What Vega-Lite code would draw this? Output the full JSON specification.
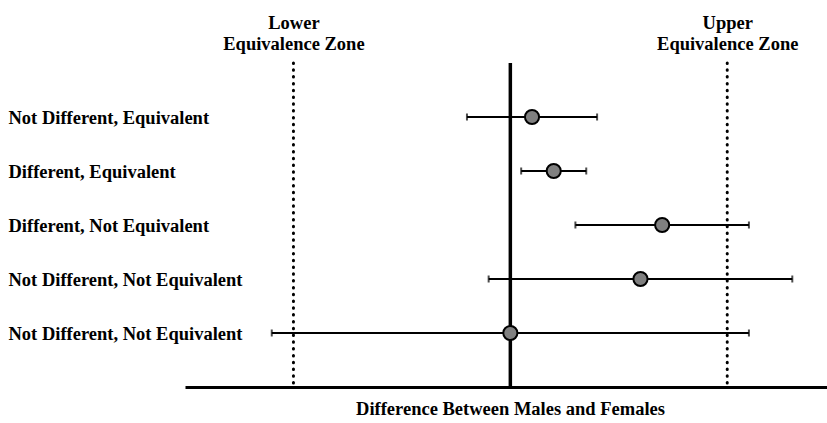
{
  "$schema": "https://vega.github.io/schema/vega-lite/v6.json",
  "width": 642,
  "height": 324,
  "autosize": "none",
  "padding": {"left": 185, "top": 63, "right": 0, "bottom": 36},
  "background": "white",
  "config": {
    "view": {"stroke": null},
    "font": "Liberation Serif",
    "axis": {"labelColor": "black", "titleColor": "black", "grid": false}
  },
  "data": {
    "values": [
      {"label": "Not Different, Equivalent", "est": 0.1, "lo": -0.2, "hi": 0.4},
      {"label": "Different, Equivalent", "est": 0.2, "lo": 0.05, "hi": 0.35},
      {"label": "Different, Not Equivalent", "est": 0.7, "lo": 0.3, "hi": 1.1},
      {"label": "Not Different, Not Equivalent", "est": 0.6, "lo": -0.1, "hi": 1.3},
      {"label": "Not Different, Not Equivalent ", "est": 0.0, "lo": -1.1, "hi": 1.1}
    ]
  },
  "resolve": {"axis": {"x": "independent"}},
  "layer": [
    {
      "data": {"values": [{"bound": -1, "zone": "Lower"}, {"bound": 1, "zone": "Upper"}]},
      "mark": {"type": "rule", "strokeDash": [0.5, 6.3], "strokeCap": "round", "strokeWidth": 3, "color": "black"},
      "encoding": {
        "x": {
          "field": "bound",
          "type": "quantitative",
          "scale": {"domain": [-1.5, 1.46], "nice": false, "zero": false},
          "axis": {
            "orient": "top",
            "values": [-1, 1],
            "labelExpr": "datum.value < 0 ? ['Lower', 'Equivalence Zone'] : ['Upper', 'Equivalence Zone']",
            "domain": false,
            "ticks": false,
            "grid": false,
            "title": null,
            "labelFontSize": 18.5,
            "labelFontWeight": "bold",
            "labelLineHeight": 21,
            "labelBaseline": "alphabetic",
            "labelPadding": 35,
            "labelFlush": false,
            "labelOverlap": false
          }
        }
      }
    },
    {
      "data": {"values": [{"zero": 0}]},
      "mark": {"type": "rule", "strokeWidth": 3.5, "color": "black"},
      "encoding": {
        "x": {
          "field": "zero",
          "type": "quantitative",
          "axis": {
            "orient": "bottom",
            "domain": true,
            "domainWidth": 3,
            "domainColor": "black",
            "ticks": false,
            "labels": false,
            "grid": false,
            "title": "Difference Between Males and Females",
            "titleFontSize": 18.5,
            "titleFontWeight": "bold",
            "titlePadding": 12,
            "titleX": 325
          }
        }
      }
    },
    {
      "mark": {"type": "rule", "strokeWidth": 2, "color": "black"},
      "encoding": {
        "x": {"field": "lo", "type": "quantitative", "axis": null},
        "x2": {"field": "hi"},
        "y": {
          "field": "label",
          "type": "nominal",
          "sort": null,
          "scale": {"type": "point", "padding": 1},
          "axis": {
            "title": null,
            "domain": false,
            "ticks": false,
            "labelAlign": "left",
            "labelBaseline": "middle",
            "labelPadding": 177,
            "labelFontSize": 18.5,
            "labelFontWeight": "bold",
            "labelLimit": 400
          }
        }
      }
    },
    {
      "mark": {"type": "tick", "orient": "vertical", "size": 7, "thickness": 2, "color": "black"},
      "encoding": {
        "x": {"field": "lo", "type": "quantitative", "axis": null},
        "y": {"field": "label", "type": "nominal", "sort": null}
      }
    },
    {
      "mark": {"type": "tick", "orient": "vertical", "size": 7, "thickness": 2, "color": "black"},
      "encoding": {
        "x": {"field": "hi", "type": "quantitative", "axis": null},
        "y": {"field": "label", "type": "nominal", "sort": null}
      }
    },
    {
      "mark": {"type": "point", "filled": true, "fill": "#808080", "stroke": "black", "strokeWidth": 2, "size": 200, "opacity": 1},
      "encoding": {
        "x": {"field": "est", "type": "quantitative", "axis": null},
        "y": {"field": "label", "type": "nominal", "sort": null}
      }
    }
  ]
}
